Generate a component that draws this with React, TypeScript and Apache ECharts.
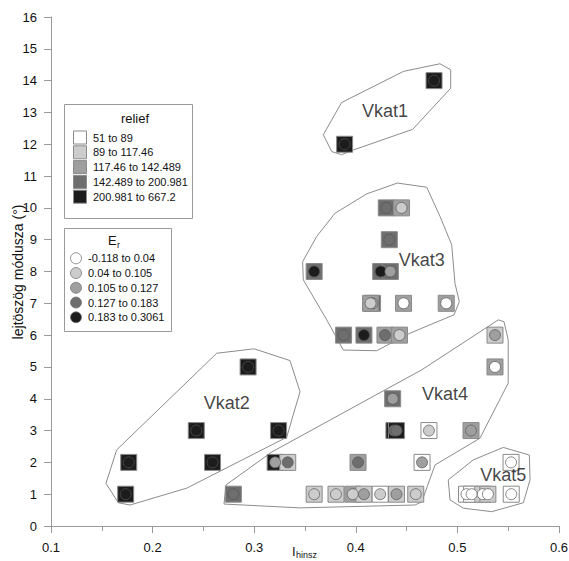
import React, { useEffect, useRef } from "react";
import * as echarts from "echarts";

// ---- data ----
const pointX = [
  0.477, 0.389,
  0.294, 0.243, 0.324, 0.1765, 0.259, 0.1735,
  0.430, 0.445, 0.433, 0.359, 0.4245, 0.434, 0.4165, 0.4145, 0.447, 0.489, 0.388, 0.408, 0.4287, 0.443,
  0.3206, 0.333, 0.2795, 0.359, 0.3805, 0.397, 0.408, 0.424, 0.440, 0.459, 0.4022, 0.4652, 0.4363, 0.4375, 0.4400, 0.472, 0.5134, 0.537, 0.537,
  0.5528, 0.509, 0.514, 0.525, 0.530, 0.553,
];
const pointY = [
  14, 12,
  5, 3, 3, 2, 2, 1,
  10, 10, 9, 8, 8, 8, 7, 7, 7, 7, 6, 6, 6, 6,
  2, 2, 1, 1, 1, 1, 1, 1, 1, 1, 2, 2, 4, 3, 3, 3, 3, 6, 5,
  2, 1, 1, 1, 1, 1,
];
// relief class (1..5) and Er class (1..5) of each point
const reliefClass = [
  5, 5,
  5, 5, 5, 5, 5, 5,
  4, 3, 4, 4, 4, 4, 4, 3, 3, 3, 4, 4, 3, 3,
  5, 2, 4, 2, 2, 3, 2, 1, 2, 2, 3, 1, 4, 5, 5, 1, 3, 2, 3,
  1, 1, 1, 2, 2, 1,
];
const erClass = [
  5, 5,
  5, 5, 5, 5, 5, 5,
  4, 2, 4, 5, 5, 3, 3, 2, 1, 1, 4, 5, 4, 2,
  3, 4, 4, 2, 2, 2, 3, 2, 3, 2, 4, 3, 3, 4, 4, 2, 3, 3, 1,
  1, 1, 1, 1, 1, 1,
];

const reliefTitle = "relief";
const reliefLabels = ["51 to 89", "89 to 117.46", "117.46 to 142.489", "142.489 to 200.981", "200.981 to 667.2"];
const erLabels = ["-0.118 to 0.04", "0.04 to 0.105", "0.105 to 0.127", "0.127 to 0.183", "0.183 to 0.3061"];

const clusterNames = ["Vkat1", "Vkat2", "Vkat3", "Vkat4", "Vkat5"];
const clusterLabelX = [0.4287, 0.2729, 0.4649, 0.4878, 0.5452];
const clusterLabelY = [13.03, 3.86, 8.36, 4.15, 1.6];

const hullVkat1: [number, number][] = [
  [0.4829, 14.53], [0.4934, 14.34], [0.4934, 13.76], [0.456, 12.47], [0.3976, 11.82],
  [0.386, 11.67], [0.3763, 11.77], [0.368, 12.3], [0.386, 13.31], [0.4468, 14.29],
];
const hullVkat2: [number, number][] = [
  [0.2631, 5.43], [0.3, 5.57], [0.3352, 5.2], [0.3451, 4.22], [0.3369, 3.33], [0.332, 2.79],
  [0.2336, 1.19], [0.1778, 0.66], [0.1663, 0.73], [0.1541, 1.34], [0.1646, 2.39],
];
const hullVkat3: [number, number][] = [
  [0.4409, 10.78], [0.4698, 10.65], [0.4829, 9.73], [0.4944, 8.84], [0.4976, 7.63], [0.5019, 7.05],
  [0.4967, 6.64], [0.4533, 6.06], [0.4206, 5.51], [0.3877, 5.53], [0.3714, 6.48], [0.3483, 7.74],
  [0.3477, 8.31], [0.3615, 9.1], [0.3795, 9.83], [0.4107, 10.44],
];
const hullVkat4: [number, number][] = [
  [0.2703, 0.69], [0.2722, 1.29], [0.3175, 2.33], [0.4649, 4.91], [0.5403, 6.48], [0.5459, 6.42],
  [0.55, 5.85], [0.55, 4.49], [0.5222, 2.76], [0.478, 1.92], [0.4649, 0.76], [0.4583, 0.66],
  [0.345, 0.57],
];
const hullVkat5: [number, number][] = [
  [0.5452, 2.47], [0.5708, 2.23], [0.5715, 1.45], [0.5649, 0.73], [0.5337, 0.45], [0.5058, 0.56],
  [0.4927, 0.82], [0.491, 1.45], [0.5157, 2.08],
];
const hulls = [hullVkat1, hullVkat2, hullVkat3, hullVkat4, hullVkat5];

const xMin = 0.1, xMax = 0.6, xStep = 0.1;
const yMin = 0, yMax = 16, yStep = 1;

// ---- styles ----
const greys = ["#ffffff", "#cccccc", "#9f9f9f", "#6e6e6e", "#1c1c1c"];
const FONT = "'Liberation Sans', Arial, sans-serif";
const TXT = "#111111";

export default function App() {
  const ref = useRef<HTMLDivElement>(null);
  useEffect(() => {
    if (!ref.current) return;
    const chart = echarts.init(ref.current, undefined, { renderer: "svg" });

    const hullSeries = hulls.map((h) => ({
      type: "line",
      data: [...h, h[0]],
      symbol: "none",
      silent: true,
      z: 1,
      lineStyle: { color: "#8c8c8c", width: 1 },
    }));

    const squares = pointX.map((x, i) => ({
      value: [x, pointY[i]],
      itemStyle: { color: greys[reliefClass[i] - 1] },
    }));
    const circles = pointX.map((x, i) => ({
      value: [x, pointY[i]],
      itemStyle: { color: greys[erClass[i] - 1] },
    }));
    const labels = clusterNames.map((n, i) => ({ name: n, value: [clusterLabelX[i], clusterLabelY[i]] }));

    const graphic: any[] = [];
    // relief legend
    graphic.push({ type: "rect", shape: { x: 64.5, y: 104.5, width: 128, height: 114 }, style: { fill: "#fff", stroke: "#9a9a9a", lineWidth: 1 } });
    graphic.push({ type: "text", x: 135, y: 118, style: { text: reliefTitle, fontSize: 13, fontFamily: FONT, fill: TXT, align: "center", verticalAlign: "middle" } });
    reliefLabels.forEach((t, i) => {
      const cy = 137.5 + i * 14.8;
      graphic.push({ type: "rect", shape: { x: 73.5, y: cy - 6.5, width: 13, height: 13 }, style: { fill: greys[i], stroke: "#8a8a8a", lineWidth: 1 } });
      graphic.push({ type: "text", x: 93, y: cy, style: { text: t, fontSize: 11, fontFamily: FONT, fill: TXT, align: "left", verticalAlign: "middle" } });
    });
    // Er legend
    graphic.push({ type: "rect", shape: { x: 64.5, y: 228.5, width: 107, height: 103 }, style: { fill: "#fff", stroke: "#9a9a9a", lineWidth: 1 } });
    graphic.push({ type: "text", x: 108, y: 240, style: { text: "E", fontSize: 13, fontFamily: FONT, fill: TXT, align: "left", verticalAlign: "middle" } });
    graphic.push({ type: "text", x: 117, y: 244.5, style: { text: "r", fontSize: 9, fontFamily: FONT, fill: TXT, align: "left", verticalAlign: "middle" } });
    erLabels.forEach((t, i) => {
      const cy = 258.3 + i * 14.75;
      graphic.push({ type: "circle", shape: { cx: 76, cy, r: 5.5 }, style: { fill: greys[i], stroke: "#777", lineWidth: 0.8 } });
      graphic.push({ type: "text", x: 88, y: cy, style: { text: t, fontSize: 11, fontFamily: FONT, fill: TXT, align: "left", verticalAlign: "middle" } });
    });
    // axis titles
    graphic.push({ type: "text", x: 18, y: 272, rotation: Math.PI / 2, style: { text: "lejtöszög módusza (°)", fontSize: 14, fontFamily: FONT, fill: TXT, align: "center", verticalAlign: "middle" } });
    graphic.push({ type: "text", x: 292, y: 545, style: { text: "I", fontSize: 13, fontFamily: FONT, fill: TXT, align: "left", verticalAlign: "top" } });
    graphic.push({ type: "text", x: 296, y: 550, style: { text: "hinsz", fontSize: 9, fontFamily: FONT, fill: TXT, align: "left", verticalAlign: "top" } });

    const axisCommon = {
      axisLine: { show: true, onZero: false, lineStyle: { color: "#9a9a9a", width: 1 } },
      axisTick: { show: true, length: 7, lineStyle: { color: "#9a9a9a" } },
      splitLine: { show: false },
    };

    chart.setOption({
      animation: false,
      backgroundColor: "#ffffff",
      textStyle: { fontFamily: FONT },
      grid: { left: 51, right: 10, top: 17, bottom: 35, containLabel: false, outerBoundsMode: "none" },
      xAxis: {
        type: "value",
        min: xMin,
        max: xMax,
        interval: xStep,
        ...axisCommon,
        minorTick: { show: true, splitNumber: 2, length: 5, lineStyle: { color: "#9a9a9a" } },
        axisLabel: { color: TXT, fontSize: 13, margin: 15, fontFamily: FONT, formatter: (v: number) => v.toFixed(1) },
      },
      yAxis: {
        type: "value",
        min: yMin,
        max: yMax,
        interval: yStep,
        ...axisCommon,
        axisLabel: { color: TXT, fontSize: 13, margin: 14, fontFamily: FONT },
      },
      series: [
        ...hullSeries,
        {
          type: "scatter",
          data: squares,
          symbol: "rect",
          symbolSize: 16,
          z: 2,
          silent: true,
          itemStyle: { borderColor: "#8a8a8a", borderWidth: 1, opacity: 1 },
        },
        {
          type: "scatter",
          data: circles,
          symbol: "circle",
          symbolSize: 11,
          z: 3,
          silent: true,
          itemStyle: { borderColor: "#555555", borderWidth: 0.7, opacity: 1 },
        },
        {
          type: "scatter",
          data: labels,
          symbolSize: 0,
          z: 4,
          silent: true,
          label: { show: true, position: "inside", formatter: "{b}", fontSize: 18, color: TXT, fontFamily: FONT },
        },
      ],
      graphic,
    });
    return () => chart.dispose();
  }, []);
  return <div ref={ref} style={{ position: "fixed", left: 0, top: 0, width: 569, height: 561 }} />;
}
